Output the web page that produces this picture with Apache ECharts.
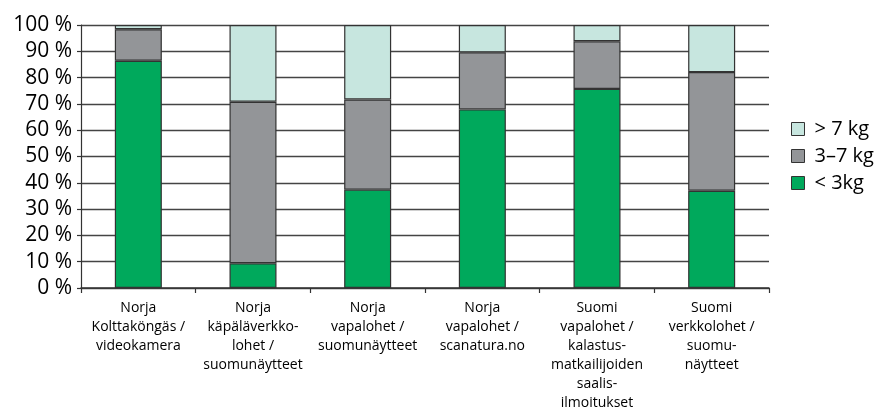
<!DOCTYPE html>
<html>
<head>
<meta charset="utf-8">
<script src="https://cdn.jsdelivr.net/npm/echarts@6/dist/echarts.min.js"></script>
<style>
html,body{margin:0;padding:0;background:#fff;}
#c{width:875px;height:413px;}
</style>
</head>
<body>
<div id="c"></div>
<script>
const categories = [
  "Norja\nKolttaköngäs /\nvideokamera",
  "Norja\nkäpäläverkko-\nlohet /\nsuomunäytteet",
  "Norja\nvapalohet /\nsuomunäytteet",
  "Norja\nvapalohet /\nscanatura.no",
  "Suomi\nvapalohet /\nkalastus-\nmatkailijoiden\nsaalis-\nilmoitukset",
  "Suomi\nverkkolohet /\nsuomu-\nnäytteet"
];
const seriesNames = ["< 3kg", "3–7 kg", "> 7 kg"];
const under3 = [86.4, 9.4, 37.4, 67.9, 75.7, 37.0];
const from3to7 = [12.0, 61.4, 34.3, 21.7, 18.1, 45.1];
const over7 = [1.6, 29.2, 28.3, 10.4, 6.2, 17.9];
const colors = ["#00a95c", "#939598", "#c7e6df"];

const font = "'Open Sans', 'DejaVu Sans', sans-serif";
const chart = echarts.init(document.getElementById('c'), null, {renderer: 'canvas'});
const values = [under3, from3to7, over7];
chart.setOption({
  animation: false,
  textStyle: {fontFamily: font, color: '#000'},
  grid: {left: 81, right: 106, top: 25, bottom: 122.5, containLabel: false},
  legend: {
    orient: 'vertical',
    left: 786,
    top: 114,
    itemWidth: 13,
    itemHeight: 13,
    itemGap: 7,
    icon: 'rect',
    data: [seriesNames[2], seriesNames[1], seriesNames[0]],
    itemStyle: {borderColor: '#333', borderWidth: 1},
    textStyle: {fontFamily: font, fontSize: 20, color: '#000', lineHeight: 20, padding: [0, 0, 0, 5]}
  },
  xAxis: {
    type: 'category',
    data: categories,
    axisLine: {lineStyle: {color: '#333', width: 1.5}},
    axisTick: {show: true, length: 5, lineStyle: {color: '#333', width: 1.2}},
    axisLabel: {interval: 0, margin: 11, fontSize: 14, lineHeight: 19, color: '#000', fontFamily: font, align: 'center'}
  },
  yAxis: {
    type: 'value',
    min: 0, max: 100, interval: 10,
    axisLine: {show: true, lineStyle: {color: '#333', width: 1.2}},
    axisTick: {show: true, inside: false, length: 4, lineStyle: {color: '#333', width: 1.2}},
    axisLabel: {formatter: '{value} %', fontSize: 21, margin: 9, color: '#000', fontFamily: font},
    splitLine: {show: true, lineStyle: {color: '#444', width: 1.3}}
  },
  series: seriesNames.map((name, i) => ({
    name: name,
    type: 'bar',
    stack: 'total',
    barWidth: '41%',
    data: values[i],
    itemStyle: {color: colors[i], borderColor: '#333', borderWidth: 1.2}
  }))
});
</script>
</body>
</html>
